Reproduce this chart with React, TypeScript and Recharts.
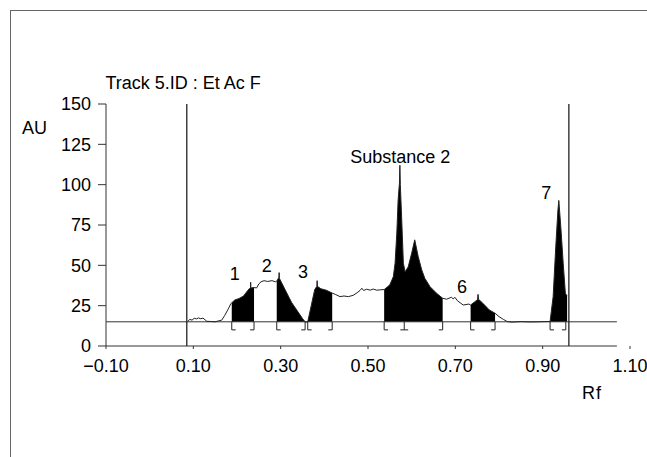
import { ComposedChart, Line, Area, XAxis, YAxis, ReferenceLine, ReferenceDot } from 'recharts';

const FONT = '"Liberation Sans", Arial, Helvetica, sans-serif';
const BASELINE = 15;

// densitogram trace: [Rf, AU]
const trace: [number, number][] = [
  [0.087, 15.2], [0.092, 16.5], [0.097, 16.0], [0.102, 17.2], [0.107, 16.8], [0.112, 17.4],
  [0.117, 16.9], [0.122, 17.3], [0.127, 16.2], [0.131, 15.3], [0.14, 15.2], [0.15, 15.0],
  [0.158, 15.6], [0.165, 16.0], [0.172, 19.0], [0.18, 23.0], [0.186, 26.3],
  // peak 1
  [0.188, 26.8], [0.195, 28.5], [0.205, 29.5], [0.215, 31.0], [0.222, 33.5], [0.228, 35.5],
  [0.231, 36.0], [0.2313, 39.5], [0.2316, 36.0], [0.239, 36.2],
  [0.245, 36.0], [0.25, 38.5], [0.255, 39.8], [0.262, 40.5], [0.27, 40.0], [0.28, 40.5], [0.288, 39.8],
  // peak 2
  [0.291, 40.2], [0.296, 42.5], [0.2965, 45.5], [0.297, 42.0], [0.31, 35.0], [0.325, 27.0],
  [0.34, 21.0], [0.35, 17.0], [0.356, 15.0],
  [0.358, 14.8],
  // peak 3
  [0.362, 15.0], [0.37, 25.0], [0.378, 35.0], [0.383, 37.0], [0.3835, 40.5], [0.384, 37.0],
  [0.392, 35.5], [0.405, 34.5], [0.418, 32.8],
  [0.425, 32.0], [0.436, 30.6], [0.445, 31.0], [0.455, 30.6], [0.466, 31.4], [0.475, 33.0],
  [0.482, 34.5], [0.486, 35.8], [0.49, 34.4], [0.497, 35.2], [0.505, 34.6], [0.512, 35.3],
  [0.52, 34.6], [0.528, 34.8],
  // substance 2 + shoulder peak
  [0.537, 35.0], [0.544, 36.5], [0.55, 37.9], [0.558, 43.0], [0.562, 51.3], [0.566, 70.0],
  [0.569, 90.6], [0.572, 101.0], [0.573, 112.0], [0.574, 100.0], [0.577, 80.0], [0.581, 51.3],
  [0.585, 46.0], [0.592, 49.0], [0.6, 57.5], [0.607, 65.8], [0.615, 55.4], [0.623, 47.2],
  [0.63, 42.0], [0.642, 36.8], [0.657, 32.7], [0.671, 29.6],
  [0.68, 29.0], [0.691, 30.2], [0.695, 29.2], [0.699, 30.2], [0.705, 28.0], [0.718, 25.4], [0.731, 26.0],
  // peak 6
  [0.735, 25.4], [0.748, 28.1], [0.751, 29.0], [0.752, 32.0], [0.753, 29.0], [0.763, 26.5],
  [0.778, 22.3], [0.791, 20.3],
  [0.8, 18.2], [0.81, 16.5], [0.819, 15.1], [0.83, 14.8], [0.85, 15.1], [0.87, 14.9], [0.89, 15.0],
  [0.905, 15.1],
  // peak 7
  [0.917, 15.2], [0.924, 30.6], [0.93, 61.6], [0.935, 84.4], [0.937, 90.2], [0.942, 72.0],
  [0.947, 51.3], [0.952, 32.7], [0.956, 31.0],
];

// integration windows (filled black)
const peakWindows: [number, number][] = [
  [0.188, 0.239], [0.291, 0.356], [0.362, 0.418], [0.537, 0.671], [0.735, 0.791], [0.917, 0.956],
];

// integration brackets under the baseline
const brackets: { rf: number; side: 'L' | 'R' | 'T' }[] = [
  { rf: 0.188, side: 'L' }, { rf: 0.239, side: 'R' },
  { rf: 0.291, side: 'L' }, { rf: 0.356, side: 'R' },
  { rf: 0.362, side: 'L' }, { rf: 0.418, side: 'R' },
  { rf: 0.537, side: 'L' }, { rf: 0.583, side: 'T' }, { rf: 0.671, side: 'R' },
  { rf: 0.735, side: 'L' }, { rf: 0.791, side: 'R' },
  { rf: 0.917, side: 'L' }, { rf: 0.953, side: 'R' },
];

const peakLabels = [
  { text: '1', rf: 0.195, au: 44.8 },
  { text: '2', rf: 0.268, au: 50.0 },
  { text: '3', rf: 0.351, au: 45.9 },
  { text: 'Substance 2', rf: 0.574, au: 117.6 },
  { text: '6', rf: 0.715, au: 36.6 },
  { text: '7', rf: 0.908, au: 94.9 },
];

const xTicks = [-0.1, 0.1, 0.3, 0.5, 0.7, 0.9, 1.1];
const yTicks = [0, 25, 50, 75, 100, 125, 150];
const trackLines = [0.085, 0.96];
const AXIS_END = 1.07;

const inWindow = (rf: number) => peakWindows.some(([a, b]) => rf >= a - 1e-9 && rf <= b + 1e-9);

const data = trace.map(([rf, au]) => ({
  rf,
  au,
  band: inWindow(rf) ? [BASELINE, au] : null,
}));

const fmtX = (v: number) => (v < 0 ? '\u2212' + Math.abs(v).toFixed(2) : v.toFixed(2));

export default function App() {
  const FOOT = 0.009;
  const DROP = 10;
  return (
    <div style={{ position: 'absolute', left: 0, top: 0, width: 647, height: 457, background: '#fff', fontFamily: FONT }}>
      {/* outer frame of the scan */}
      <div style={{ position: 'absolute', left: 10, top: 10, width: 637, height: 447, borderLeft: '1px solid #666', borderTop: '1px solid #666' }} />
      <ComposedChart width={647} height={457} data={data} margin={{ top: 104, right: 17, bottom: 71, left: 46 }}>
        <XAxis
          dataKey="rf"
          type="number"
          domain={[-0.1, 1.1]}
          ticks={xTicks}
          tickFormatter={fmtX}
          axisLine={false}
          tickSize={3}
          tickMargin={10}
          height={40}
          tick={{ fill: '#000', fontSize: 18, fontFamily: FONT }}
          tickLine={{ stroke: '#333' }}
          allowDataOverflow
        />
        <YAxis
          type="number"
          domain={[0, 150]}
          ticks={yTicks}
          width={60}
          tickSize={8}
          tickMargin={7}
          tick={{ fill: '#000', fontSize: 18, fontFamily: FONT }}
          axisLine={{ stroke: '#333' }}
          tickLine={{ stroke: '#333' }}
        />
        <ReferenceLine segment={[{ x: -0.1, y: 0 }, { x: AXIS_END, y: 0 }]} stroke="#333" />
        <ReferenceLine segment={[{ x: -0.1, y: BASELINE }, { x: AXIS_END, y: BASELINE }]} stroke="#333" />
        {trackLines.map((x) => (
          <ReferenceLine key={x} x={x} stroke="#222" strokeWidth={1.3} />
        ))}
        <Area
          dataKey="band"
          type="linear"
          fill="#000"
          fillOpacity={1}
          stroke="none"
          isAnimationActive={false}
          connectNulls={false}
        />
        <Line dataKey="au" type="linear" stroke="#222" strokeWidth={1} dot={false} isAnimationActive={false} />
        {brackets.map((b) => (
          <ReferenceLine key={'v' + b.rf} segment={[{ x: b.rf, y: BASELINE }, { x: b.rf, y: DROP }]} stroke="#222" />
        ))}
        {brackets.map((b) => (
          <ReferenceLine
            key={'h' + b.rf}
            segment={[
              { x: b.side === 'L' ? b.rf : b.rf - FOOT, y: DROP },
              { x: b.side === 'R' ? b.rf : b.rf + FOOT, y: DROP },
            ]}
            stroke="#222"
          />
        ))}
        {peakLabels.map((l) => (
          <ReferenceDot
            key={l.text}
            x={l.rf}
            y={l.au}
            r={1}
            fill="none"
            stroke="none"
            label={{ value: l.text, position: 'center', fill: '#000', fontSize: 18, fontFamily: FONT }}
          />
        ))}
      </ComposedChart>
      <svg width={647} height={457} style={{ position: 'absolute', left: 0, top: 0, pointerEvents: 'none' }}>
        <text x={105.5} y={88.5} fontSize={18} fontFamily={FONT} fill="#000">Track 5.ID : Et Ac F</text>
        <text x={22} y={133.5} fontSize={18} fontFamily={FONT} fill="#000">AU</text>
        <text x={582} y={398.5} fontSize={18} fontFamily={FONT} fill="#000" letterSpacing={1}>Rf</text>
      </svg>
    </div>
  );
}
